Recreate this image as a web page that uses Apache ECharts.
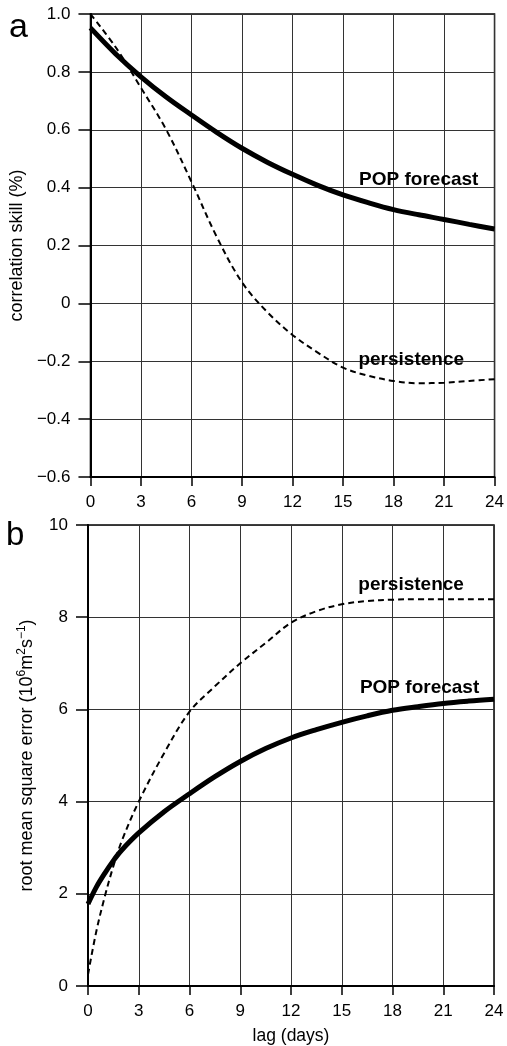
<!DOCTYPE html>
<html><head><meta charset="utf-8">
<script src="https://cdn.jsdelivr.net/npm/echarts@6/dist/echarts.min.js"></script>
<style>html,body{margin:0;padding:0;background:#fff}#c{width:507px;height:1046px}</style>
</head><body><div id="c"></div>
<script>
// ---- data ----
const lagTicks = [0, 3, 6, 9, 12, 15, 18, 21, 24];
const yTicksA = [-0.6, -0.4, -0.2, 0, 0.2, 0.4, 0.6, 0.8, 1.0];
const yTickLabelsA = ['\u22120.6', '\u22120.4', '\u22120.2', '0', '0.2', '0.4', '0.6', '0.8', '1.0'];
const yTicksB = [0, 2, 4, 6, 8, 10];
const yTickLabelsB = ['0', '2', '4', '6', '8', '10'];

const lagsA = [0, 1.5, 3, 4.5, 6, 7.5, 9, 10.5, 12, 13.5, 15, 16.5, 18, 19.5, 21, 22.5, 24];
const popA = [0.952, 0.862, 0.783, 0.713, 0.651, 0.591, 0.536, 0.488, 0.446, 0.408, 0.375, 0.348, 0.324, 0.306, 0.29, 0.273, 0.257];
const persA = [1.0, 0.885, 0.745, 0.6, 0.42, 0.23, 0.073, -0.03, -0.109, -0.17, -0.222, -0.25, -0.268, -0.276, -0.274, -0.268, -0.262];

const lagsB = [0, 0.5, 1, 1.5, 2, 3, 4.5, 6, 7.5, 9, 10.5, 12, 13.5, 15, 16.5, 18, 19.5, 21, 22.5, 24];
const popB = [1.78, 2.15, 2.45, 2.72, 2.95, 3.32, 3.78, 4.17, 4.54, 4.87, 5.15, 5.38, 5.56, 5.72, 5.86, 5.98, 6.06, 6.13, 6.18, 6.22];
const persB = [0.25, 1.2, 1.95, 2.6, 3.15, 4.0, 5.05, 5.95, 6.5, 7.0, 7.44, 7.88, 8.13, 8.28, 8.35, 8.38, 8.39, 8.39, 8.39, 8.39];

const seriesNames = ['POP forecast', 'persistence'];
const yTitleA = 'correlation skill (%)';
const yTitleB = '{n|root mean square error (10}{s|6}{n|m}{s|2}{n|s}{s|\u22121}{n|)}';
const xTitle = 'lag (days)';
// ---- end data ----

const zip = (xs, ys) => xs.map((x, i) => [x, ys[i]]);
const FONT = '"Liberation Sans", Arial, Helvetica, sans-serif';
const lookup = (ticks, labels) => v => {
  const i = ticks.findIndex(t => Math.abs(t - v) < 1e-6);
  return i >= 0 ? labels[i] : '';
};

function xAxis(gi) {
  return {
    type: 'value', gridIndex: gi, min: 0, max: 24, interval: 3,
    name: gi === 1 ? xTitle : '', nameLocation: 'middle', nameGap: 41,
    nameTextStyle: { fontFamily: FONT, fontSize: 17.5, color: '#000' },
    axisLine: { onZero: false, lineStyle: { color: '#000', width: 2 } },
    axisTick: { length: 9, lineStyle: { color: '#000', width: 1.5 } },
    axisLabel: { margin: 17, fontFamily: FONT, fontSize: 17, color: '#000',
      formatter: lookup(lagTicks, lagTicks.map(String)) },
    splitLine: { show: true, lineStyle: { color: '#333', width: 1 } }
  };
}
function yAxis(gi, min, max, interval, ticks, labels, title) {
  return {
    type: 'value', gridIndex: gi, min, max, interval,
    name: title, nameLocation: 'middle', nameGap: 52, nameRotate: 90,
    nameTextStyle: { fontFamily: FONT, fontSize: 18, color: '#000',
      rich: {
        n: { fontFamily: FONT, fontSize: 18, color: '#000', verticalAlign: 'bottom', lineHeight: 20 },
        s: { fontFamily: FONT, fontSize: 12, color: '#000', verticalAlign: 'top', lineHeight: 20 }
      } },
    axisLine: { show: true, onZero: false, lineStyle: { color: '#000', width: 2 } },
    axisTick: { show: true, length: 12, lineStyle: { color: '#000', width: 1.5 } },
    axisLabel: { margin: 20, fontFamily: FONT, fontSize: 17, color: '#000',
      formatter: lookup(ticks, labels) },
    splitLine: { show: true, lineStyle: { color: '#333', width: 1 } }
  };
}
function label(coord, text) {
  return {
    coord, value: text,
    symbol: 'rect', symbolSize: 1, itemStyle: { color: 'rgba(0,0,0,0)' },
    label: { show: true, position: 'inside', formatter: text,
      fontFamily: FONT, fontWeight: 'bold', fontSize: 19, color: '#000' }
  };
}
function line(name, data, xi, yi, solid, lab) {
  return {
    type: 'line', name, xAxisIndex: xi, yAxisIndex: yi, data,
    smooth: 0.35, showSymbol: false, symbol: 'none', silent: true,
    lineStyle: solid ? { color: '#000', width: 5 } : { color: '#000', width: 2, type: [6, 4] },
    markPoint: { silent: true, animation: false, data: [lab] },
    z: solid ? 5 : 4
  };
}

const chart = echarts.init(document.getElementById('c'), null, { renderer: 'canvas' });
chart.setOption({
  animation: false,
  backgroundColor: '#fff',
  grid: [
    { left: 88, top: 14, width: 407, height: 463, show: true, borderColor: '#000', borderWidth: 1.5 },
    { left: 88, top: 525, width: 406, height: 461, show: true, borderColor: '#000', borderWidth: 1.5 }
  ],
  xAxis: [xAxis(0), xAxis(1)],
  yAxis: [
    yAxis(0, -0.6, 1.0, 0.2, yTicksA, yTickLabelsA, yTitleA),
    yAxis(1, 0, 10, 2, yTicksB, yTickLabelsB, yTitleB)
  ],
  graphic: [
    { type: 'text', left: 9, top: 11, style: { text: 'a', font: '34px ' + FONT, fill: '#000' } },
    { type: 'text', left: 6, top: 519, style: { text: 'b', font: '33px ' + FONT, fill: '#000' } }
  ],
  series: [
    line(seriesNames[0], zip(lagsA, popA), 0, 0, true, label([19.5, 0.426], seriesNames[0])),
    line(seriesNames[1], zip(lagsA, persA), 0, 0, false, label([19.05, -0.196], seriesNames[1])),
    line(seriesNames[0], zip(lagsB, popB), 1, 1, true, label([19.6, 6.46], seriesNames[0])),
    line(seriesNames[1], zip(lagsB, persB), 1, 1, false, label([19.1, 8.70], seriesNames[1]))
  ]
});
</script></body></html>
